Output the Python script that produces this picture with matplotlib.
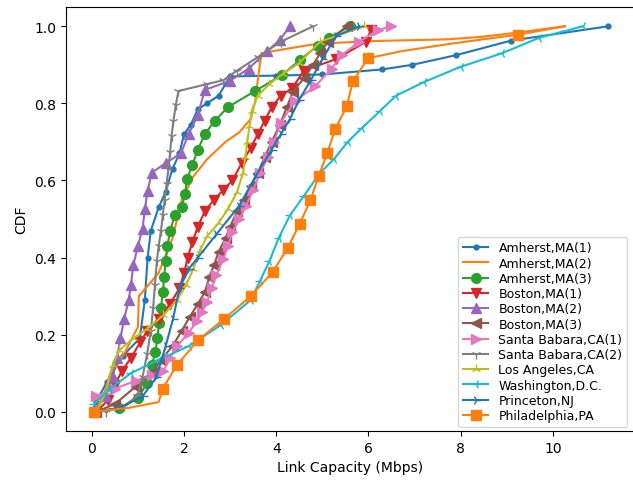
import numpy as np
import matplotlib.pyplot as plt

# link capacity samples (Mbps) and CDF value for each measurement site
amherst1_x = [0.0, 0.1, 0.33, 0.67, 1.04, 1.15, 1.21, 1.28, 1.45, 1.6, 1.75, 1.9, 2.0, 2.15, 2.3, 2.5, 2.75, 3.0, 4.0, 5.0, 6.3, 6.95, 7.9, 9.1, 11.2]
amherst1_y = [0.0, 0.026, 0.078, 0.145, 0.19, 0.29, 0.4, 0.47, 0.53, 0.57, 0.63, 0.67, 0.72, 0.745, 0.785, 0.8, 0.82, 0.87, 0.872, 0.875, 0.888, 0.9, 0.925, 0.963, 1.0]

amherst2_x = [0.05, 0.25, 0.4, 0.7, 1.0, 1.02, 1.45, 1.75, 1.95, 2.2, 2.5, 2.9, 3.2, 3.45, 3.55, 3.6, 3.68, 4.0, 4.9, 6.2, 7.7, 8.4, 9.2, 10.26]
amherst2_y = [0.0, 0.04, 0.1, 0.15, 0.22, 0.3, 0.36, 0.45, 0.55, 0.61, 0.655, 0.7, 0.725, 0.76, 0.81, 0.86, 0.93, 0.937, 0.955, 0.962, 0.966, 0.972, 0.983, 1.0]

amherst3_x = [0.1, 0.6, 1.0, 1.2, 1.3, 1.38, 1.42, 1.46, 1.5, 1.54, 1.57, 1.6, 1.64, 1.7, 1.8, 1.95, 2.02, 2.07, 2.18, 2.3, 2.45, 2.67, 2.95, 3.54, 4.12, 4.51, 4.9, 5.15, 5.6]
amherst3_y = [0.0, 0.01, 0.035, 0.075, 0.12, 0.155, 0.19, 0.23, 0.27, 0.31, 0.35, 0.39, 0.43, 0.47, 0.51, 0.53, 0.565, 0.605, 0.64, 0.68, 0.72, 0.755, 0.79, 0.832, 0.873, 0.912, 0.95, 0.97, 1.0]

boston1_x = [0.1, 0.35, 0.5, 0.65, 0.85, 1.05, 1.2, 1.45, 1.7, 1.9, 2.0, 2.08, 2.18, 2.3, 2.45, 2.65, 2.85, 3.05, 3.25, 3.45, 3.6, 3.75, 3.9, 4.1, 4.35, 4.6, 5.3, 5.95, 6.05]
boston1_y = [0.0, 0.03, 0.07, 0.105, 0.14, 0.18, 0.21, 0.24, 0.28, 0.32, 0.36, 0.4, 0.44, 0.48, 0.52, 0.55, 0.575, 0.6, 0.645, 0.685, 0.72, 0.755, 0.79, 0.82, 0.84, 0.885, 0.915, 0.96, 0.99]

boston2_x = [0.05, 0.3, 0.45, 0.55, 0.62, 0.7, 0.8, 0.85, 0.9, 1.0, 1.1, 1.15, 1.21, 1.3, 1.6, 1.93, 2.1, 2.3, 2.45, 2.99, 3.4, 3.8, 4.08, 4.3]
boston2_y = [0.0, 0.04, 0.09, 0.14, 0.19, 0.24, 0.29, 0.33, 0.38, 0.43, 0.475, 0.525, 0.573, 0.62, 0.645, 0.67, 0.72, 0.77, 0.835, 0.858, 0.89, 0.935, 0.965, 1.0]

boston3_x = [0.1, 0.5, 0.95, 1.3, 1.5, 1.75, 1.95, 2.12, 2.3, 2.45, 2.55, 2.65, 2.75, 2.9, 3.0, 3.15, 3.3, 3.45, 3.6, 3.75, 3.9, 4.08, 4.23, 4.36, 4.6, 4.8, 4.95, 5.12, 5.53]
boston3_y = [0.0, 0.02, 0.065, 0.1, 0.135, 0.17, 0.21, 0.245, 0.28, 0.31, 0.35, 0.38, 0.415, 0.45, 0.48, 0.52, 0.55, 0.585, 0.62, 0.66, 0.7, 0.745, 0.79, 0.83, 0.865, 0.9, 0.93, 0.96, 1.0]

sb1_x = [0.1, 0.5, 0.95, 1.3, 1.55, 1.7, 1.85, 2.1, 2.28, 2.4, 2.5, 2.6, 2.7, 2.85, 2.95, 3.05, 3.2, 3.35, 3.5, 3.65, 3.82, 3.95, 4.1, 4.4, 4.85, 5.2, 5.42, 5.8, 6.2, 6.5]
sb1_y = [0.04, 0.06, 0.08, 0.095, 0.105, 0.14, 0.17, 0.205, 0.235, 0.26, 0.285, 0.32, 0.355, 0.395, 0.43, 0.465, 0.5, 0.535, 0.575, 0.62, 0.66, 0.7, 0.75, 0.805, 0.845, 0.89, 0.925, 0.96, 0.99, 1.0]

sb2_x = [0.3, 0.7, 0.98, 1.1, 1.2, 1.28, 1.33, 1.37, 1.41, 1.45, 1.5, 1.54, 1.58, 1.62, 1.66, 1.7, 1.73, 1.77, 1.82, 1.88, 2.5, 2.85, 3.15, 3.6, 4.1, 4.8]
sb2_y = [0.0, 0.015, 0.04, 0.09, 0.15, 0.21, 0.27, 0.33, 0.39, 0.43, 0.47, 0.51, 0.55, 0.59, 0.63, 0.675, 0.715, 0.755, 0.795, 0.832, 0.85, 0.86, 0.885, 0.92, 0.96, 1.0]

la_x = [0.1, 0.3, 0.45, 0.6, 0.9, 1.2, 1.55, 1.85, 2.05, 2.2, 2.35, 2.5, 2.75, 2.95, 3.15, 3.28, 3.33, 3.37, 3.42, 3.47, 3.6, 3.85, 4.15, 4.5, 4.95, 5.9]
la_y = [0.0, 0.05, 0.12, 0.16, 0.19, 0.215, 0.25, 0.29, 0.33, 0.37, 0.42, 0.455, 0.49, 0.525, 0.57, 0.62, 0.66, 0.7, 0.74, 0.78, 0.82, 0.85, 0.877, 0.905, 0.96, 1.0]

dc_x = [0.05, 0.4, 0.85, 1.45, 2.1, 2.8, 3.45, 3.65, 3.85, 4.05, 4.3, 4.6, 4.95, 5.25, 5.55, 5.85, 6.25, 6.6, 7.2, 8.0, 8.9, 9.7, 10.65]
dc_y = [0.02, 0.06, 0.1, 0.135, 0.17, 0.225, 0.29, 0.34, 0.39, 0.45, 0.51, 0.56, 0.62, 0.655, 0.7, 0.735, 0.78, 0.82, 0.855, 0.895, 0.93, 0.97, 1.0]

princeton_x = [0.05, 0.6, 1.1, 1.4, 1.6, 1.76, 1.9, 2.1, 2.3, 2.7, 3.2, 3.55, 3.9, 4.1, 4.3, 4.5, 4.75, 5.0, 5.3, 5.8]
princeton_y = [0.0, 0.01, 0.04, 0.09, 0.17, 0.24, 0.32, 0.37, 0.4, 0.46, 0.535, 0.61, 0.68, 0.72, 0.76, 0.81, 0.86, 0.915, 0.975, 1.0]

philly_x = [0.05, 0.8, 1.45, 1.54, 1.84, 2.3, 2.86, 3.45, 3.92, 4.25, 4.51, 4.74, 4.92, 5.11, 5.28, 5.53, 5.66, 5.99, 6.7, 7.8, 8.6, 9.24, 10.26]
philly_y = [0.0, 0.01, 0.025, 0.06, 0.12, 0.185, 0.24, 0.3, 0.362, 0.425, 0.488, 0.548, 0.612, 0.672, 0.734, 0.792, 0.857, 0.917, 0.935, 0.955, 0.968, 0.978, 1.0]
philly_marks = [0, 3, 4, 5, 6, 7, 8, 9, 10, 11, 12, 13, 14, 15, 16, 17, 21]

sites = [
    ('Amherst,MA(1)', amherst1_x, amherst1_y, '.', None),
    ('Amherst,MA(2)', amherst2_x, amherst2_y, ',', None),
    ('Amherst,MA(3)', amherst3_x, amherst3_y, 'o', None),
    ('Boston,MA(1)', boston1_x, boston1_y, 'v', None),
    ('Boston,MA(2)', boston2_x, boston2_y, '^', None),
    ('Boston,MA(3)', boston3_x, boston3_y, '<', None),
    ('Santa Babara,CA(1)', sb1_x, sb1_y, '>', None),
    ('Santa Babara,CA(2)', sb2_x, sb2_y, '1', None),
    ('Los Angeles,CA', la_x, la_y, '2', None),
    ('Washington,D.C.', dc_x, dc_y, '3', None),
    ('Princeton,NJ', princeton_x, princeton_y, '4', None),
    ('Philadelphia,PA', philly_x, philly_y, 's', philly_marks),
]

fig = plt.figure(figsize=(6.33, 4.85), dpi=100)
ax = fig.add_axes([66/633, 53/485, 568/633, 424/485])

for label, xs, ys, mk, every in sites:
    ax.plot(xs, ys, marker=mk, markersize=7, markevery=every, label=label)

ax.set_xticks(np.arange(0, 11, 2))
ax.set_yticks(np.arange(0, 1.01, 0.2))
ax.set_xlabel('Link Capacity (Mbps)')
ax.set_ylabel('CDF')
ax.legend(loc='lower right', fontsize=9, labelspacing=0.18, handlelength=2.0,
          borderaxespad=0.3, bbox_to_anchor=(0.995, 0.0))

fig.savefig('out.png')
